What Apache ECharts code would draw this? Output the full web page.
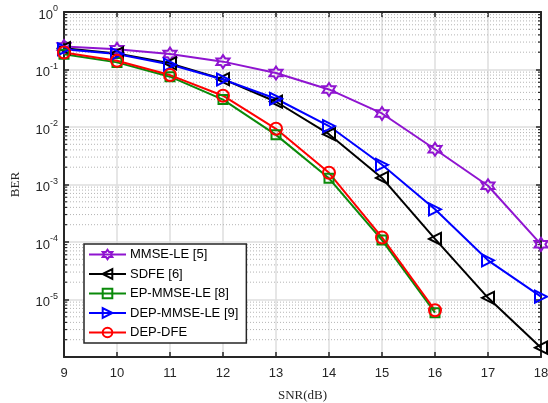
<!DOCTYPE html>
<html>
<head>
<meta charset="utf-8">
<script src="https://cdn.jsdelivr.net/npm/echarts@6/dist/echarts.min.js"></script>
<style>
  html, body { margin: 0; padding: 0; background: #fff; }
  #chart { width: 548px; height: 403px; }
</style>
</head>
<body>
<div id="chart"></div>
<script>
const snr = [9, 10, 11, 12, 13, 14, 15, 16, 17, 18];
const mmseLe = [0.25, 0.225, 0.186, 0.137, 0.087, 0.045, 0.0172, 0.0041, 0.00095, 9.1e-5];
const sdfe = [0.235, 0.19, 0.128, 0.068, 0.0275, 0.0075, 0.0013, 1.13e-4, 1.07e-5, 1.45e-6];
const epMmseLe = [0.185, 0.133, 0.075, 0.030, 0.0073, 0.00128, 1.08e-4, 5.9e-6];
const depMmseLe = [0.225, 0.186, 0.122, 0.067, 0.031, 0.0104, 0.0022, 3.7e-4, 4.8e-5, 1.12e-5];
const depDfe = [0.198, 0.142, 0.080, 0.035, 0.0093, 0.0016, 1.2e-4, 6.5e-6];
const seriesNames = ['MMSE-LE [5]', 'SDFE [6]', 'EP-MMSE-LE [8]', 'DEP-MMSE-LE [9]', 'DEP-DFE'];

// minor log gridlines 2..9 of every decade
const minorVals = [];
for (let e = -6; e < 0; e++) {
  for (let m = 2; m <= 9; m++) minorVals.push(m * Math.pow(10, e));
}

const axisColor = '#262626';
const sans = "'Liberation Sans', Arial, Helvetica, sans-serif";
const serif = "'Liberation Serif', 'DejaVu Serif', serif";
const hexagram = 'path://M5,0 L6.44,2.5 L9.33,2.5 L7.89,5 L9.33,7.5 L6.44,7.5 L5,10 L3.56,7.5 L0.67,7.5 L2.11,5 L0.67,2.5 L3.56,2.5 Z';
const triLeft = 'path://M0,5 L10,0 L10,10 Z';
const triRight = 'path://M10,5 L0,0 L0,10 Z';

const pair = (xs, ys) => ys.map((y, i) => [xs[i], y]);

const makeSeries = (name, data, color, symbol, size) => ({
  name,
  type: 'line',
  data: pair(snr, data),
  symbol,
  symbolSize: size,
  showAllSymbol: true,
  lineStyle: { color, width: 2 },
  itemStyle: { color: 'rgba(255,255,255,0)', borderColor: color, borderWidth: 2 },
  emphasis: { disabled: true },
  z: 5,
});

const chart = echarts.init(document.getElementById('chart'));

const logLabel = (v) => {
  const e = Math.round(Math.log10(v));
  if (e === -6) return '';
  return '{base|10}{sup|' + e + '}';
};

chart.setOption({
  animation: false,
  backgroundColor: '#fff',
  textStyle: { fontFamily: sans },
  grid: { left: 64, right: 7, top: 12, bottom: 46, outerBoundsMode: 'none', containLabel: false },
  xAxis: [
    {
      type: 'value',
      min: 9,
      max: 18,
      interval: 1,
      name: 'SNR(dB)',
      nameLocation: 'middle',
      nameGap: 32,
      nameTextStyle: { fontFamily: serif, fontSize: 13, color: axisColor },
      axisLine: { onZero: false, lineStyle: { color: axisColor, width: 2 } },
      axisTick: { inside: true, length: 5, lineStyle: { color: axisColor, width: 1.5 } },
      axisLabel: { color: axisColor, fontSize: 13, fontFamily: sans, margin: 10 },
      splitLine: { show: true, lineStyle: { color: '#dedede', width: 1.5 } },
    },
    {
      type: 'value',
      position: 'top',
      min: 9,
      max: 18,
      interval: 1,
      axisLine: { onZero: false, lineStyle: { color: axisColor, width: 2 } },
      axisTick: { inside: true, length: 5, lineStyle: { color: axisColor, width: 1.5 } },
      axisLabel: { show: false },
      splitLine: { show: false },
    },
  ],
  yAxis: [
    {
      type: 'log',
      logBase: 10,
      min: 1e-6,
      max: 1,
      splitNumber: 6,
      name: 'BER',
      nameLocation: 'middle',
      nameGap: 42,
      nameTextStyle: { fontFamily: serif, fontSize: 13, color: axisColor },
      axisLine: { onZero: false, lineStyle: { color: axisColor, width: 2 } },
      axisTick: { inside: true, length: 5, lineStyle: { color: axisColor, width: 1.5 } },
      axisLabel: {
        color: axisColor,
        fontSize: 13,
        fontFamily: sans,
        margin: 6,
        formatter: logLabel,
        rich: {
          base: { fontSize: 13, fontFamily: sans, color: axisColor, padding: [6, 0, 0, 0] },
          sup: { fontSize: 9, fontFamily: sans, color: axisColor, padding: [0, 0, 6, 0] },
        },
      },
      splitLine: { show: true, lineStyle: { color: '#dedede', width: 1.5 } },
    },
    {
      type: 'log',
      logBase: 10,
      min: 1e-6,
      max: 1,
      splitNumber: 6,
      position: 'right',
      axisLine: { onZero: false, lineStyle: { color: axisColor, width: 2 } },
      axisTick: { inside: true, length: 5, lineStyle: { color: axisColor, width: 1.5 } },
      axisLabel: { show: false },
      splitLine: { show: false },
    },
  ],
  legend: {
    orient: 'vertical',
    left: 84,
    top: 244,
    data: seriesNames,
    backgroundColor: '#fff',
    borderColor: axisColor,
    borderWidth: 1.5,
    borderRadius: 0,
    padding: [4, 8, 4, 4],
    itemWidth: 37,
    itemHeight: 12,
    itemGap: 6.5,
    textStyle: { fontSize: 13, fontFamily: sans, color: '#000', padding: [0, 0, 0, -1] },
  },
  series: [
    {
      type: 'custom',
      silent: true,
      xAxisIndex: 0,
      yAxisIndex: 0,
      z: 1,
      data: minorVals.map((v) => [9, v]),
      encode: { x: 0, y: 1 },
      renderItem: (params, api) => {
        const v = api.value(1);
        const a = api.coord([9, v]);
        const b = api.coord([18, v]);
        return {
          type: 'group',
          children: [
            {
              type: 'line',
              shape: { x1: a[0], y1: a[1], x2: b[0], y2: b[1] },
              style: { stroke: '#b4b4b4', lineWidth: 1, lineDash: [1, 2] },
            },
            {
              type: 'line',
              shape: { x1: a[0], y1: a[1], x2: a[0] + 3, y2: a[1] },
              style: { stroke: axisColor, lineWidth: 1.2 },
            },
            {
              type: 'line',
              shape: { x1: b[0] - 3, y1: b[1], x2: b[0], y2: b[1] },
              style: { stroke: axisColor, lineWidth: 1.2 },
            },
          ],
        };
      },
    },
    makeSeries(seriesNames[0], mmseLe, '#8f14d0', hexagram, 13),
    makeSeries(seriesNames[1], sdfe, '#000000', triLeft, 12),
    makeSeries(seriesNames[2], epMmseLe, '#0a8a0a', 'rect', 9),
    makeSeries(seriesNames[3], depMmseLe, '#0000ff', triRight, 12),
    makeSeries(seriesNames[4], depDfe, '#ff0000', 'circle', 12),
  ],
});
</script>
</body>
</html>
